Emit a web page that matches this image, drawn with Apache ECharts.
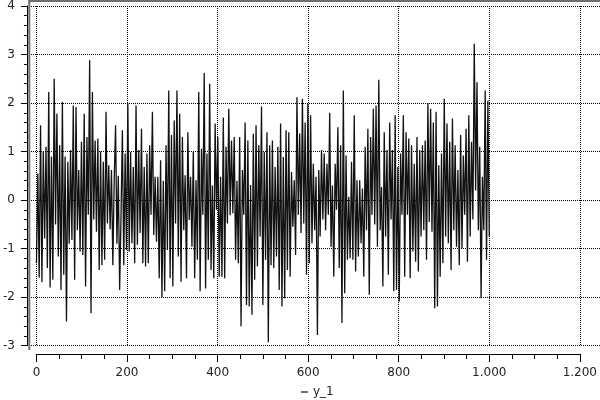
<!DOCTYPE html>
<html>
<head>
<meta charset="utf-8">
<script src="https://cdn.jsdelivr.net/npm/echarts@6/dist/echarts.min.js"></script>
<style>html,body{margin:0;padding:0;background:#ffffff;}#c{width:600px;height:400px;}</style>
</head>
<body>
<div id="c"></div>
<script>
// Series y_1 values, left to right (x spans 0 .. 1000)
var seg1 = [-1.3, 0.55, -1.6, 1.54, -1.69, 1.0, -0.79, 1.1, -1.4, 2.23, -1.8, 0.9, -1.64, 2.5, -0.5, 1.78, -1.16, 1.13, -1.85, 2.02, -1.54, 0.9, -2.5, 0.79, -0.9, 1.03, -0.82, 1.95, -1.64, 1.92, -0.62, 0.62, -1.06, 1.2, -1.13, 1.78, -1.78, 1.3, -0.3, 2.88, -2.33, 2.23, -0.4, 1.23, -0.65, 1.27, -1.44, 1.0, -1.34, 0.79, -1.23, 1.82, -0.48];
var seg2 = [0.72, -0.6, 0.62, -1.34, 0.4, 1.54, -0.9, 0.5, -1.85, -0.3, 1.44, -1.34, 0.96, -1.03, 1.99, -1.06, 0.99, -0.89, 0.68, -1.3, 1.95, -0.92, 1.03, -0.68, 1.47, -1.3, 0.68, -1.37, 0.96, -1.3, 1.13, -0.3, 1.82, -0.72, 0.48, -0.86, 0.48, -1.61, 0.82, -2.0, 0.4, -1.88, 1.13, -1.03, 2.26, -1.61, 1.34, -1.78, 1.64, -0.48, 2.26, -1.16, 1.78, -1.68, 1.3, -0.62];
var seg3 = [0.51, -1.61, 1.4, -0.41, 0.48, -0.96, 0.99, -1.61, 0.41, -1.23, 2.23, -1.88, 1.06, -0.3, 2.62, -1.82, 0.96, -1.23, 2.4, -1.44, 0.3, -1.61, 1.58, -0.2, 1.3, -1.58, 0.48, -1.58, 1.7, -1.61, 1.1, -0.48, 1.88, -0.31, 1.23, -0.27, 1.3, -1.23, 0.4, -1.3, 1.3, -2.6, 0.62, -0.3, 1.6, -2.16, 1.23, -2.19, 0.31, -2.36, 1.37, -1.64, 1.54, -1.37, 1.13, -0.75, 1.93];
var seg4 = [-2.16, 0.99, -1.23, 1.4, -2.93, 1.13, -1.34, 1.23, -1.4, 0.68, -1.16, 1.1, -1.85, 1.58, -2.19, 0.89, -2.02, 1.44, -1.44, 1.4, -1.58, 0.58, -0.55, 0.41, -1.13, 2.12, -0.3, 1.37, -0.68, 2.09, -0.48, 1.6, -1.54, 1.99, -1.3, 1.75, -0.89, 0.75, -0.62, 0.48, -2.78, 0.62, -0.75, 1.03, -0.4, 0.96, -0.62, 0.75, -0.3, 1.8, -0.96, 0.3, -1.58, 0.75, -0.2, 1.5];
var seg5 = [-1.4, 1.13, -2.53, 2.26, -1.92, 0.92, -1.23, 0.07, -1.2, 0.79, -1.23, 1.75, -1.47, 0.41, -1.16, 0.41, -0.89, 0.24, -1.58, 1.1, -0.62, 1.47, -1.95, 1.3, -0.3, 1.88, -0.5, 1.95, -0.96, 2.48, -0.62, 0.27, -1.78, 1.4, -0.75, 1.03, -1.54, 1.6, -0.4, 1.03, -1.88, 1.75, -1.85, 0.68, -2.09, 0.96, -0.3, 1.75, -1.58, 1.4, -0.3, 1.27, -1.61, 1.13, -1.06, 0.75];
var seg6 = [-1.27, 1.3, -1.47, 1.03, -0.75, 1.13, -0.62, 1.23, -1.23, 2.0, -0.45, 1.88, -0.65, 1.6, -2.23, 1.82, -2.19, 0.72, -1.58, 0.96, -1.3, 2.09, -0.75, 1.58, -0.89, 1.2, -1.44, 1.68, -0.62, 1.13, -0.96, 0.62, -1.34, 1.34, -0.99, 0.92, -0.3, 1.47, -1.27, 1.75, -0.75, 1.2, -0.4, 3.22, 0.2, 2.43, -0.62, 1.1, -2.02, 0.48, -0.62, 2.26, -1.23, 2.05, -0.75];

var seriesName = 'y_1';
var xStart = 0, xEnd = 1000;
var xTicks = [0, 200, 400, 600, 800, 1000, 1200];
var yTicks = [-3, -2, -1, 0, 1, 2, 3, 4];

var yValues = [].concat(seg1, seg2, seg3, seg4, seg5, seg6);
var n = yValues.length;
var points = yValues.map(function (v, i) { return [xStart + i * (xEnd - xStart) / (n - 1), v]; });

function fmtThousands(v) {
  return String(v).replace(/\B(?=(\d{3})+(?!\d))/g, '.');
}

var font = 'DejaVu Sans';
var gridLine = {show: true, lineStyle: {color: '#000', type: 'dotted', width: 1, opacity: 1}};
var chart = echarts.init(document.getElementById('c'), null, {renderer: 'canvas'});
chart.setOption({
  animation: false,
  backgroundColor: '#ffffff',
  textStyle: {fontFamily: font},
  graphic: [
    {type: 'line', z: 100, shape: {x1: 28.3, y1: 1, x2: 600, y2: 1}, style: {stroke: '#6e6e6e', lineWidth: 2}},
    {type: 'line', z: 100, shape: {x1: 29.3, y1: 0, x2: 29.3, y2: 350}, style: {stroke: '#6e6e6e', lineWidth: 2}}
  ],
  legend: {
    data: [seriesName],
    left: 296, top: 381,
    icon: 'rect', itemWidth: 7, itemHeight: 1.2, itemGap: 4,
    textStyle: {fontFamily: font, fontSize: 12, color: '#222'}
  },
  grid: [
    {left: 35, right: 19, top: 6, bottom: 54.3, containLabel: false},
    {left: 29, right: 0, top: 6, bottom: 54.3, containLabel: false}
  ],
  xAxis: [
    {
      type: 'value', gridIndex: 0, min: xTicks[0], max: xTicks[xTicks.length - 1], interval: 200,
      position: 'bottom', offset: 8.3,
      axisLine: {show: true, onZero: false, lineStyle: {color: '#000', width: 1}},
      axisTick: {show: true, inside: false, length: 8, lineStyle: {color: '#000'}},
      minorTick: {show: true, splitNumber: 4, length: 5, lineStyle: {color: '#000'}},
      axisLabel: {margin: 13, fontSize: 12, color: '#222', fontFamily: font, formatter: fmtThousands},
      splitLine: gridLine
    },
    {
      type: 'value', gridIndex: 1, min: -13.187, max: 1241.76,
      axisLine: {show: false, onZero: false}, axisTick: {show: false}, axisLabel: {show: false}, splitLine: {show: false}
    }
  ],
  yAxis: [
    {
      type: 'value', gridIndex: 0, min: yTicks[0], max: yTicks[yTicks.length - 1], interval: 1,
      position: 'left', offset: 9.5,
      axisLine: {show: true, onZero: false, lineStyle: {color: '#000', width: 1}},
      axisTick: {show: true, inside: false, length: 6, lineStyle: {color: '#000'}},
      minorTick: {show: true, splitNumber: 5, length: 3, lineStyle: {color: '#000'}},
      axisLabel: {margin: 12, fontSize: 12, color: '#222', fontFamily: font},
      splitLine: {show: false}
    },
    {
      type: 'value', gridIndex: 1, min: yTicks[0], max: yTicks[yTicks.length - 1], interval: 1,
      axisLine: {show: false, onZero: false}, axisTick: {show: false}, axisLabel: {show: false},
      splitLine: gridLine
    }
  ],
  series: [
    {
      name: seriesName, type: 'line', xAxisIndex: 0, yAxisIndex: 0,
      data: points, showSymbol: false, symbol: 'none',
      lineStyle: {color: '#111', width: 1.3},
      itemStyle: {color: '#111'}
    }
  ]
});
</script>
</body>
</html>
